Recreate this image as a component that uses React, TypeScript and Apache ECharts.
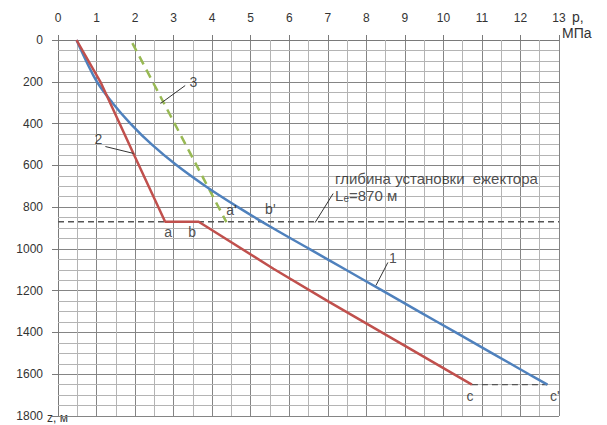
import React, { useEffect, useRef } from "react";
import * as echarts from "echarts";

// Curve 1 (blue): pressure p (MPa) vs depth z (m)
const curve1P = [0.48, 0.73, 1.01, 1.41, 1.88, 2.43, 3.08, 3.83, 4.67, 5.57, 6.52, 7.47, 8.42, 9.37, 10.32, 11.27, 12.22, 12.7];
const curve1Z = [0, 100, 200, 300, 400, 500, 600, 700, 800, 900, 1000, 1100, 1200, 1300, 1400, 1500, 1600, 1650];

// Curve 2 (red)
const curve2P = [0.48, 1.1, 1.96, 2.78, 3.65, 5.59, 7.0, 10.74];
const curve2Z = [0, 200, 545, 870, 870, 1095, 1250, 1650];

// Curve 3 (green dashed)
const curve3P = [1.93, 4.37];
const curve3Z = [15, 872];

// Ejector depth
const ejectorDepth = 870;
const bottomDepth = 1650;
const cP = 10.74;
const cPrimeP = 12.7;

// Point labels
const pointNames = ["a", "b", "a'", "b'", "c", "c'"];
const pointP = [2.86, 3.48, 4.5, 5.51, 10.69, 12.89];
const pointZ = [921, 921, 812, 811, 1702, 1702];

// Curve number labels with leaders
const curveNames = ["1", "2", "3"];
const curveLabelP = [8.69, 1.05, 3.51];
const curveLabelZ = [1046, 472, 203];
const leaderFromP = [8.56, 1.23, 3.3];
const leaderFromZ = [1065, 510, 218];
const leaderToP = [8.25, 1.96, 2.66];
const leaderToZ = [1175, 543, 304];

// Ejector text
const ejectorText1 = "глибина установки  ежектора";
const ejectorText2 = "{n|L}{s|e}{n|=870 м}";
const ejectorTextP = 7.19;
const ejectorText1Z = 663;
const ejectorText2Z = 744;
const ejectorLeaderP = [7.14, 6.67];
const ejectorLeaderZ = [735, 874];

// Grid lines (minor every 0.5 MPa and 50 m)
const xMinorLines = [0.5, 1.5, 2.5, 3.5, 4.5, 5.5, 6.5, 7.5, 8.5, 9.5, 10.5, 11.5, 12.5];
const yMinorLines = [
  50, 100, 150, 250, 300, 350, 450, 500, 550, 650, 700, 750, 850, 900, 950, 1050, 1100, 1150,
  1250, 1300, 1350, 1450, 1500, 1550, 1650, 1700, 1750,
];

const xTicks = { min: 0, max: 13, interval: 1 };
const yTicks = { min: 0, max: 1800, interval: 200 };

const FONT = "Liberation Sans";

export default function App() {
  const ref = useRef<HTMLDivElement>(null);
  useEffect(() => {
    document.body.style.margin = "0";
    if (!ref.current) return;
    const chart = echarts.init(ref.current, undefined, { renderer: "svg" });
    const zip = (a: number[], b: number[]) => a.map((v, i) => [v, b[i]]);
    const leaderStyle = { color: "#333", width: 1 };
    const leaders = curveNames.map((n, i) => ({
      type: "line",
      data: [
        [leaderFromP[i], leaderFromZ[i]],
        [leaderToP[i], leaderToZ[i]],
      ],
      symbol: "none",
      lineStyle: leaderStyle,
      silent: true,
      z: 10,
    }));
    const option: any = {
      animation: false,
      grid: { left: 58, right: 48, top: 40, bottom: 9 },
      xAxis: {
        type: "value",
        position: "top",
        min: xTicks.min,
        max: xTicks.max,
        interval: xTicks.interval,
        axisLine: { show: true, lineStyle: { color: "#7a7a7a", width: 1 } },
        axisTick: { show: true, length: 5, lineStyle: { color: "#7a7a7a" } },
        axisLabel: { margin: 16, color: "#333", fontFamily: FONT, fontSize: 12 },
        splitLine: { show: true, lineStyle: { color: "#858585", width: 1 } },
      },
      yAxis: {
        type: "value",
        inverse: true,
        min: yTicks.min,
        max: yTicks.max,
        interval: yTicks.interval,
        axisLine: { show: true, lineStyle: { color: "#7a7a7a", width: 1 } },
        axisTick: { show: true, length: 6, lineStyle: { color: "#7a7a7a" } },
        axisLabel: {
          margin: 15,
          color: "#333",
          fontFamily: FONT,
          fontSize: 12,
          formatter: (v: number) => String(v),
        },
        splitLine: { show: true, lineStyle: { color: "#858585", width: 1 } },
      },
      graphic: [
        { type: "text", left: 572, top: 10, style: { text: "p,", fill: "#333", font: `14px ${FONT}` } },
        { type: "text", left: 562, top: 26, style: { text: "МПа", fill: "#333", font: `14px ${FONT}` } },
        { type: "text", left: 47, top: 412, style: { text: "z, м", fill: "#333", font: `12px ${FONT}` } },
      ],
      series: [
        {
          type: "line",
          data: [],
          silent: true,
          markLine: {
            silent: true,
            symbol: "none",
            label: { show: false },
            lineStyle: { color: "#b4b4b4", width: 1, type: "solid" },
            data: [
              ...xMinorLines.map((v) => ({ xAxis: v })),
              ...yMinorLines.map((v) => ({ yAxis: v })),
            ],
          },
        },
        {
          type: "line",
          data: [
            [0, ejectorDepth],
            [13, ejectorDepth],
          ],
          symbol: "none",
          lineStyle: { color: "#555", width: 1.3, type: [6, 4] },
          silent: true,
          z: 7,
        },
        {
          type: "line",
          data: [
            [cP, bottomDepth],
            [cPrimeP, bottomDepth],
          ],
          symbol: "none",
          lineStyle: { color: "#555", width: 1.3, type: [6, 4] },
          silent: true,
          z: 7,
        },
        {
          type: "line",
          data: zip(curve3P, curve3Z),
          symbol: "none",
          lineStyle: { color: "#98b954", width: 2.5, type: [9, 6] },
          silent: true,
          z: 7,
        },
        {
          type: "line",
          data: zip(curve1P, curve1Z),
          symbol: "none",
          smooth: 0.4,
          lineStyle: { color: "#4f81bd", width: 2.5 },
          silent: true,
          z: 8,
        },
        {
          type: "line",
          data: zip(curve2P, curve2Z),
          symbol: "none",
          lineStyle: { color: "#c0504d", width: 2.5 },
          silent: true,
          z: 9,
        },
        ...leaders,
        {
          type: "line",
          data: zip(ejectorLeaderP, ejectorLeaderZ),
          symbol: "none",
          lineStyle: leaderStyle,
          silent: true,
          z: 10,
        },
        {
          type: "scatter",
          symbolSize: 0,
          silent: true,
          data: pointNames.map((n, i) => ({ name: n, value: [pointP[i], pointZ[i]] })),
          label: {
            show: true,
            position: "inside",
            formatter: (p: any) => p.name,
            color: "#222",
            fontFamily: FONT,
            fontSize: 14,
          },
          z: 11,
        },
        {
          type: "scatter",
          symbolSize: 0,
          silent: true,
          data: curveNames.map((n, i) => ({ name: n, value: [curveLabelP[i], curveLabelZ[i]] })),
          label: {
            show: true,
            position: "inside",
            formatter: (p: any) => p.name,
            color: "#222",
            fontFamily: FONT,
            fontSize: 14,
          },
          z: 11,
        },
        {
          type: "scatter",
          symbolSize: 0,
          silent: true,
          data: [
            { name: ejectorText1, value: [ejectorTextP, ejectorText1Z] },
            { name: ejectorText2, value: [ejectorTextP, ejectorText2Z] },
          ],
          label: {
            show: true,
            position: "right",
            distance: 0,
            formatter: (p: any) => p.name,
            color: "#222",
            fontFamily: FONT,
            fontSize: 15,
            rich: {
              n: { fontFamily: FONT, fontSize: 15, color: "#222" },
              s: { fontFamily: FONT, fontSize: 10, color: "#222", verticalAlign: "bottom", padding: [6, 0, 0, 0] },
            },
          },
          z: 11,
        },
      ],
    };
    chart.setOption(option);
    return () => chart.dispose();
  }, []);
  return <div ref={ref} style={{ width: 607, height: 425 }} />;
}
